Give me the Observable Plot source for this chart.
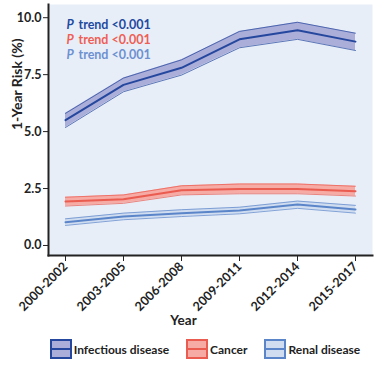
<!DOCTYPE html>
<html><head><meta charset="utf-8">
<script src="https://cdn.jsdelivr.net/npm/d3@7"></script>
<script src="https://cdn.jsdelivr.net/npm/@observablehq/plot@0.6"></script>
<style>
body{margin:0;background:#fff;font-family:Lato,sans-serif;}
#legend{display:flex;justify-content:center;align-items:center;gap:17px;height:30px;margin-top:4px;margin-left:22px;font-size:12px;font-weight:700;color:#222;}
.item{display:flex;align-items:center;gap:2px;}
.sw{width:18px;height:16px;border:2px solid;position:relative;}
.sw::after{content:"";position:absolute;left:0;right:0;top:7px;height:2px;background:var(--c);}
</style></head><body><div id="chart"></div><div id="legend"></div><script>
const periods = ["2000-2002","2003-2005","2006-2008","2009-2011","2012-2014","2015-2017"];
const seriesNames = ["Infectious disease","Cancer","Renal disease"];
const infectious   = [5.50, 7.05, 7.80, 9.05, 9.45, 8.95];
const infectiousLo = [5.18, 6.75, 7.48, 8.68, 9.05, 8.56];
const infectiousHi = [5.80, 7.35, 8.15, 9.40, 9.80, 9.32];
const cancer   = [1.93, 2.03, 2.42, 2.48, 2.48, 2.38];
const cancerLo = [1.73, 1.85, 2.22, 2.27, 2.27, 2.17];
const cancerHi = [2.12, 2.22, 2.62, 2.70, 2.70, 2.60];
const renal   = [1.02, 1.27, 1.42, 1.54, 1.80, 1.58];
const renalLo = [0.88, 1.13, 1.27, 1.39, 1.63, 1.42];
const renalHi = [1.17, 1.42, 1.57, 1.68, 1.95, 1.76];
const yTicks = [0, 2.5, 5, 7.5, 10];
const pTrend = ["trend <0.001","trend <0.001","trend <0.001"];
const yLabel = "1-Year Risk (%)";
const xLabel = "Year";

const FONT = "Lato, sans-serif";
const lineColor = {"Infectious disease":"#26479e","Cancer":"#ea5b50","Renal disease":"#5b85c9"};
const fillColor = {"Infectious disease":"#aaaed9","Cancer":"#f6aba5","Renal disease":"#d0ddf0"};
const textColor = ["#1f4aa0","#ef5e55","#6d91d0"];

const values = [infectious, cancer, renal], los = [infectiousLo, cancerLo, renalLo], his = [infectiousHi, cancerHi, renalHi];
const rows = [];
seriesNames.forEach((s, si) => periods.forEach((p, i) => rows.push({series: s, period: p, v: values[si][i], lo: los[si][i], hi: his[si][i]})));

const marks = [Plot.frame({fill: "#e7eef8", stroke: null})];
for (const s of seriesNames) {
  const d = rows.filter(r => r.series === s);
  const lc = lineColor[s];
  marks.push(Plot.areaY(d, {x: "period", y1: "lo", y2: "hi", fill: fillColor[s]}));
  marks.push(Plot.lineY(d, {x: "period", y: "lo", stroke: lc, strokeWidth: 0.9, strokeOpacity: 0.8}));
  marks.push(Plot.lineY(d, {x: "period", y: "hi", stroke: lc, strokeWidth: 0.9, strokeOpacity: 0.8}));
  marks.push(Plot.lineY(d, {x: "period", y: "v", stroke: lc, strokeWidth: 2}));
}
pTrend.forEach((t, i) => {
  marks.push(Plot.text(["P"], {frameAnchor: "top-left", dx: 18, dy: 20 + i * 15, fill: textColor[i], fontSize: 12.5, fontWeight: 700, fontStyle: "italic", textAnchor: "start", lineAnchor: "middle"}));
  marks.push(Plot.text([t], {frameAnchor: "top-left", dx: 30, dy: 20 + i * 15, fill: textColor[i], fontSize: 12.5, fontWeight: 700, textAnchor: "start", lineAnchor: "middle"}));
});
marks.push(
  Plot.axisY({ticks: yTicks, tickFormat: d3.format(".1f"), tickSize: 5, tickPadding: 2, fontSize: 12.5, fontWeight: 700, label: null, color: "#222"}),
  Plot.axisX({tickRotate: -45, tickSize: 6, tickPadding: 3, fontSize: 12.5, fontWeight: 700, label: null, color: "#222"}),
  Plot.frame({anchor: "left", stroke: "#222", strokeWidth: 2}),
  Plot.frame({anchor: "bottom", stroke: "#222", strokeWidth: 2}),
  Plot.text([yLabel], {frameAnchor: "left", dx: -31, rotate: -90, fontSize: 14, fontWeight: 700, fill: "#222", lineAnchor: "middle"}),
  Plot.text([xLabel], {frameAnchor: "bottom", dx: -27, dy: 65, fontSize: 13.5, fontWeight: 700, fill: "#222", lineAnchor: "middle"})
);

const chart = Plot.plot({
  width: 388, height: 330,
  marginLeft: 48, marginRight: 16, marginTop: 4, marginBottom: 75,
  style: {fontFamily: FONT, background: "#fff"},
  x: {type: "point", domain: periods, padding: 0.28},
  y: {domain: [-0.44, 10.58]},
  marks
});
document.getElementById("chart").appendChild(chart);

const legend = document.getElementById("legend");
seriesNames.forEach(s => {
  const it = document.createElement("div"); it.className = "item";
  const sw = document.createElement("div"); sw.className = "sw";
  sw.style.borderColor = lineColor[s]; sw.style.background = fillColor[s]; sw.style.setProperty("--c", lineColor[s]);
  const lb = document.createElement("span"); lb.textContent = s;
  it.append(sw, lb); legend.append(it);
});
</script></body></html>
